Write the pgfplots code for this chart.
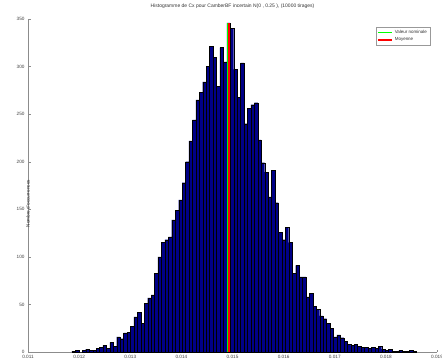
\documentclass[border=0pt]{standalone}
\usepackage{pgfplots}
\pgfplotsset{compat=1.18}
\usepackage{pgfplotstable}
\usepackage{fontspec}
\setmainfont{Liberation Sans}
\definecolor{histblue}{rgb}{0,0,0.53}
\pgfplotstableread{
i n
0 1
1 2
2 0
3 2
4 3
5 2
6 2
7 4
8 5
9 7
10 4
11 10
12 6
13 16
14 14
15 20
16 21
17 27
18 37
19 42
20 30
21 51
22 57
23 60
24 83
25 100
26 115
27 118
28 121
29 139
30 149
31 160
32 178
33 200
34 222
35 244
36 265
37 273
38 284
39 300
40 321
41 310
42 279
43 320
44 305
45 346
46 340
47 297
48 268
49 304
50 240
51 256
52 260
53 262
54 223
55 199
56 189
57 163
58 191
59 157
60 126
61 118
62 131
63 115
64 83
65 91
66 79
67 79
68 58
69 62
70 48
71 45
72 38
73 35
74 30
75 25
76 16
77 18
78 15
79 11
80 8
81 7
82 8
83 6
84 5
85 5
86 4
87 5
88 4
89 6
90 3
91 2
92 3
93 1
94 1
95 2
96 1
97 1
98 2
99 1
100 1
}\histdata
\begin{document}
\begin{tikzpicture}
\begin{axis}[
  scale only axis, width=409bp, height=333bp,
  xmin=0.011, xmax=0.019, ymin=0, ymax=350,
  axis x line*=bottom, axis y line*=left,
  axis line style={-, draw=black!45},
  xtick={0.011,0.012,0.013,0.014,0.015,0.016,0.017,0.018,0.019},
  xticklabels={0.011,0.012,0.013,0.014,0.015,0.016,0.017,0.018,0.019},
  scaled x ticks=false,
  ytick={0,50,100,150,200,250,300,350},
  tick align=inside, major tick length=2.5bp,
  tick style={black!45},
  ticklabel style={font=\fontsize{4.7}{5}\selectfont, text=black!75},
  /pgf/number format/assume math mode=true,
  title={Histogramme de Cx pour CamberBF incertain N(0 , 0.25 ), (10000 tirages)},
  title style={font=\fontsize{5}{6}\selectfont, text=black!80, at={(0.5,1)}, anchor=south, inner sep=1bp, yshift=3bp},
  ylabel={Nombre d'occurrences},
  ylabel style={font=\fontsize{4.7}{5}\selectfont, text=black!80, at={(axis description cs:0,0.5)}, xshift=-18bp, anchor=center},
  legend style={at={(rel axis cs:0.983,0.976)}, anchor=north east, font=\fontsize{4.5}{5}\selectfont, draw=black!40, inner sep=1bp, row sep=-1bp, text=black!80},
  legend cell align=left,
  legend image code/.code={\draw[#1, line width=1.5bp] (0cm,0cm) -- (0.5cm,0cm);},
]
\addplot[ybar interval, fill=histblue, draw=black, line width=0.2bp, forget plot]
  table[x expr=0.01186+\thisrow{i}*0.0000673, y=n]{\histdata};
\addplot[green, line width=2bp] coordinates {(0.014911,0) (0.014911,346)};
\addlegendentry{Valeur nominale}
\addplot[red, line width=2bp] coordinates {(0.014940,0) (0.014940,346)};
\addlegendentry{Moyenne}
\end{axis}
\pgfresetboundingbox
\path[use as bounding box] ([xshift=-28bp,yshift=-10bp]current axis.south west) rectangle ([xshift=5bp,yshift=19bp]current axis.north east);
\end{tikzpicture}
\end{document}
